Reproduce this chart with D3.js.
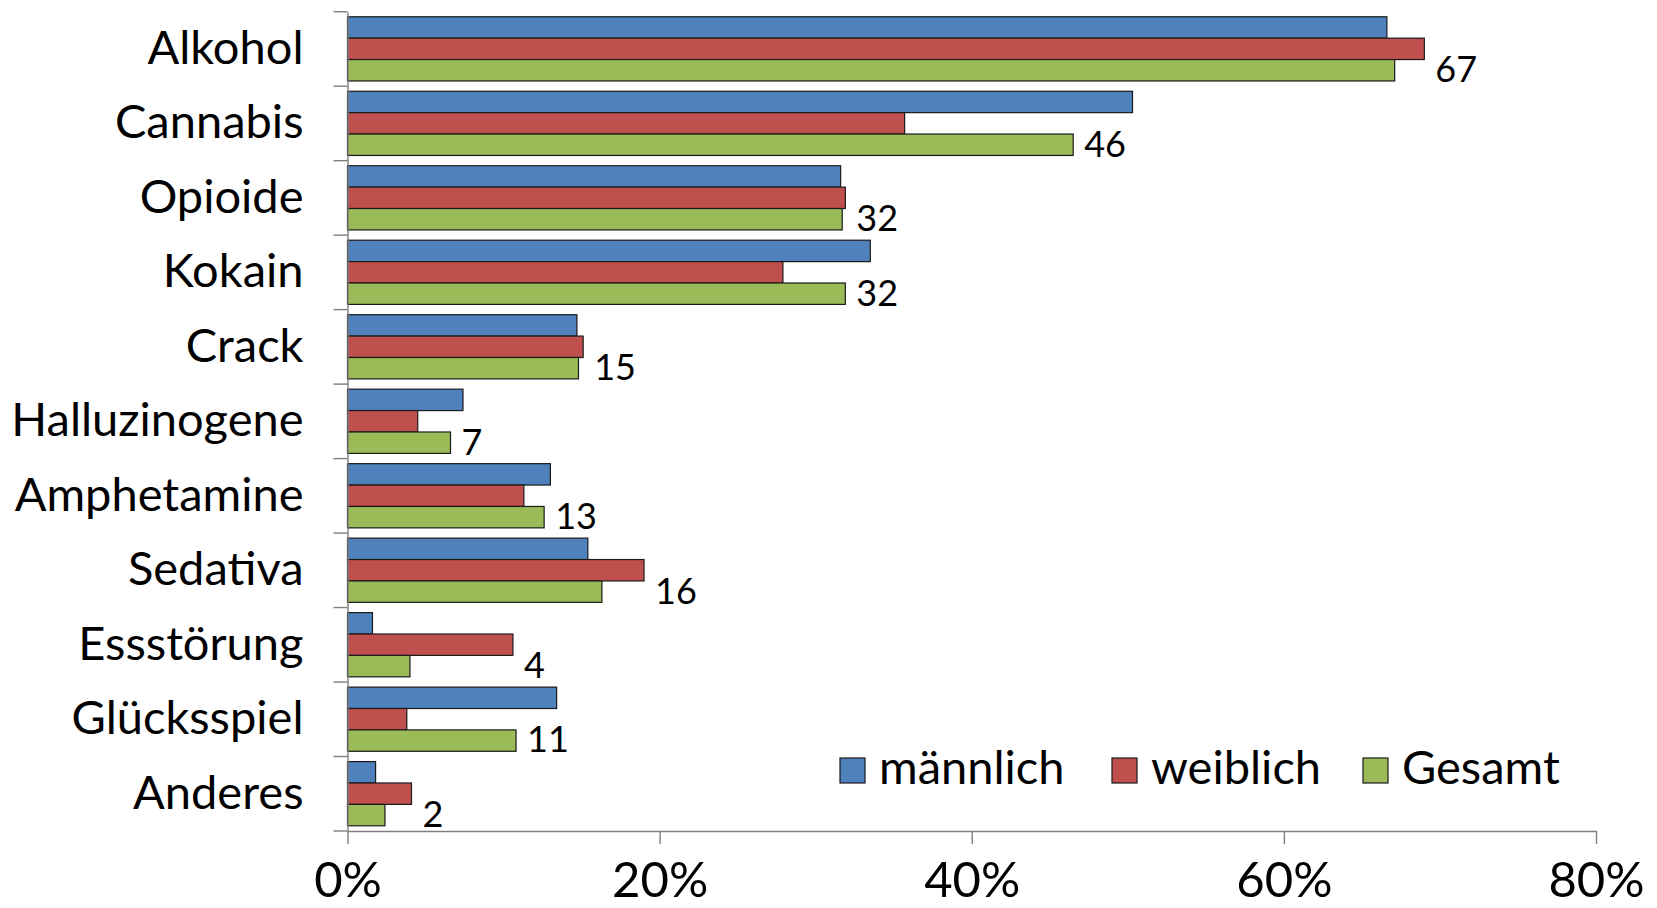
<!DOCTYPE html>
<html>
<head>
<meta charset="utf-8">
<script src="https://cdn.jsdelivr.net/npm/d3@7"></script>
<style>
  body { margin: 0; background: #fff; }
  svg text { font-family: Lato, "Open Sans", sans-serif; fill: #000; }
</style>
</head>
<body>
<svg width="1657" height="908"></svg>
<script>
// values (percent)
var categories = ["Alkohol", "Cannabis", "Opioide", "Kokain", "Crack", "Halluzinogene",
                  "Amphetamine", "Sedativa", "Essstörung", "Glücksspiel", "Anderes"];
var maennlich = [66.6, 50.3, 31.6, 33.5, 14.7, 7.4, 13.0, 15.4, 1.6, 13.4, 1.8];
var weiblich  = [69.0, 35.7, 31.9, 27.9, 15.1, 4.5, 11.3, 19.0, 10.6, 3.8, 4.1];
var gesamt    = [67.1, 46.5, 31.7, 31.9, 14.8, 6.6, 12.6, 16.3, 4.0, 10.8, 2.4];
var labels    = [67, 46, 32, 32, 15, 7, 13, 16, 4, 11, 2];
var seriesNames = ["männlich", "weiblich", "Gesamt"];
var xTicks = [0, 20, 40, 60, 80];

var colors = ["#4f81bd", "#c0504d", "#9bbb59"];
var series = [maennlich, weiblich, gesamt];

var svg = d3.select("svg");

var x = d3.scaleLinear().domain([0, 80]).range([347.5, 1596]);
var y = d3.scaleBand().domain(categories).range([11.7, 831]).padding(0);
var bw = y.bandwidth();
var ys = d3.scaleBand().domain(seriesNames).range([bw * 0.068, bw * 0.93]).padding(0);

// bars
var g = svg.append("g");
series.forEach(function(vals, si) {
    g.selectAll(".bar" + si)
      .data(vals)
      .enter().append("rect")
        .attr("x", x(0))
        .attr("y", function(d, i) { return y(categories[i]) + ys(seriesNames[si]); })
        .attr("width", function(d) { return x(d) - x(0); })
        .attr("height", ys.bandwidth())
        .style("fill", colors[si])
        .style("stroke", "#1a1a1a")
        .style("stroke-width", 1.2);
});

// data labels next to the Gesamt bar
g.selectAll(".lbl")
  .data(labels)
  .enter().append("text")
    .attr("x", function(d, i) { return x(Math.max(gesamt[i], weiblich[i])) + 11; })
    .attr("y", function(d, i) { return y(categories[i]) + ys("Gesamt") + ys.bandwidth() / 2; })
    .attr("dy", "0.33em")
    .attr("font-size", 36)
    .text(function(d) { return d; });

// y axis
var yAxis = svg.append("g")
    .attr("transform", "translate(" + x(0) + ",0)")
    .call(d3.axisLeft(y).tickSize(0).tickFormat(""));
yAxis.select(".domain").attr("stroke", "#7f7f7f").attr("stroke-width", 1.4);
var bounds = categories.map(function(c) { return y(c); }).concat([y.range()[1]]);
yAxis.selectAll(".bnd")
  .data(bounds)
  .enter().append("line")
    .attr("x1", -14).attr("x2", 0)
    .attr("y1", function(d) { return d; }).attr("y2", function(d) { return d; })
    .attr("stroke", "#7f7f7f").attr("stroke-width", 1.4);
yAxis.selectAll(".cat")
  .data(categories)
  .enter().append("text")
    .attr("x", -44)
    .attr("y", function(d) { return y(d) + bw / 2; })
    .attr("dy", "0.32em")
    .attr("text-anchor", "end")
    .attr("font-size", 47)
    .text(function(d) { return d; });

// x axis
var xAxis = svg.append("g")
    .attr("transform", "translate(0," + y.range()[1] + ")")
    .call(d3.axisBottom(x).tickValues(xTicks).tickSize(13).tickSizeOuter(0)
        .tickFormat(function(d) { return d + "%"; }));
xAxis.select(".domain").attr("stroke", "#7f7f7f").attr("stroke-width", 1.4);
xAxis.selectAll(".tick line").attr("stroke", "#7f7f7f").attr("stroke-width", 1.4);
xAxis.selectAll(".tick text")
    .attr("y", 66)
    .attr("dy", 0)
    .style("font-family", "Lato, 'Open Sans', sans-serif")
    .style("font-size", "49px")
    .style("fill", "#000");

// legend
var legX = [840, 1112, 1363];
var leg = svg.append("g").selectAll("g")
  .data(seriesNames)
  .enter().append("g")
    .attr("transform", function(d, i) { return "translate(" + legX[i] + ",758)"; });
leg.append("rect")
    .attr("width", 25).attr("height", 25)
    .style("fill", function(d, i) { return colors[i]; })
    .style("stroke", "#1a1a1a").style("stroke-width", 1.2);
leg.append("text")
    .attr("x", 39)
    .attr("y", 26)
    .attr("font-size", 47)
    .text(function(d) { return d; });
</script>
</body>
</html>
